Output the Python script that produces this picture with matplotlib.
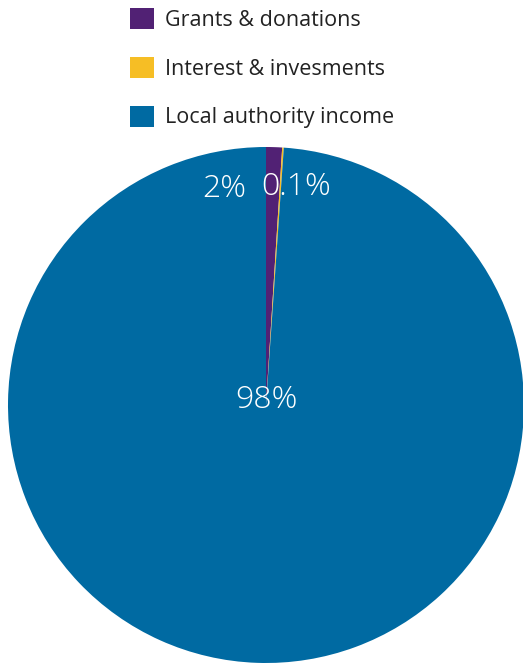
import matplotlib.pyplot as plt

plt.rcParams['font.family'] = ['Open Sans', 'DejaVu Sans']

categories = ['Grants & donations', 'Interest & invesments', 'Local authority income']
values = [1.0, 0.1, 98.9]
pct_labels = ['2%', '0.1%', '98%']
colors = ['#512174', '#f6be25', '#006aa2']

# where the percentage labels sit, in pie units
label_pos = [(-0.163, 0.838), (0.118, 0.845), (0.0, 0.02)]

fig = plt.figure(figsize=(5.23, 6.63), dpi=100)
ax = fig.add_axes([8 / 523, 0, 516 / 523, 516 / 663])

wedges, _ = ax.pie(values, colors=colors, startangle=90, counterclock=False,
                   radius=1, wedgeprops={'linewidth': 0})
ax.set_xlim(-1, 1)
ax.set_ylim(-1, 1)
ax.set_aspect('equal')

for txt, (x, y) in zip(pct_labels, label_pos):
    ax.text(x, y, txt, ha='center', va='center', color='white',
            fontsize=23, fontweight='light')

fig.legend(wedges, categories, loc='upper left',
           bbox_to_anchor=(111 / 523, 1 + 11 / 663), frameon=False,
           fontsize=15.5, handlelength=1.12, handleheight=1.12,
           labelspacing=1.2, handletextpad=0.5, labelcolor='#222222')

fig.savefig('out.png', dpi=100)
